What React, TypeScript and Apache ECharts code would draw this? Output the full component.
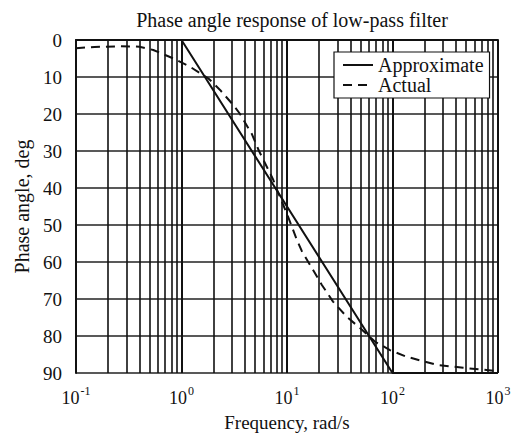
import React, { useEffect, useRef } from "react";
import * as echarts from "echarts";

const titleText = "Phase angle response of low-pass filter";
const xAxisName = "Frequency, rad/s";
const yAxisName = "Phase angle, deg";

const approxFreq = [0.1, 1, 100, 1000];
const approxPhase = [0, 0, 90, 90];

const actualFreq = [0.1, 0.15, 0.25, 0.4, 0.54, 0.84, 1.2, 1.8, 2.32, 3.1, 3.59, 4.66, 5.43, 7.36, 8.04, 10, 12.4, 13.8, 21.4, 27.3, 36.8, 49, 68, 94.6, 136, 263, 468, 1000];
const actualPhase = [2.2, 1.9, 1.7, 1.8, 2.7, 5, 7.2, 10.4, 13.5, 17.6, 20, 25.5, 30, 37.6, 40.5, 47, 54, 57, 66.2, 70.7, 74.8, 77.8, 81.5, 83.8, 85.6, 87.8, 88.6, 89.5];

const decades = [0.1, 1, 10, 100];
const minorMultipliers = [2, 3, 4, 5, 6, 7, 8, 9];
const yTicks = [0, 10, 20, 30, 40, 50, 60, 70, 80, 90];

const FONT = "Liberation Serif";

export default function App() {
  const ref = useRef<HTMLDivElement>(null);
  useEffect(() => {
    document.body.style.margin = "0";
    if (!ref.current) return;
    const chart = echarts.init(ref.current, null, { renderer: "svg" });
    const minorLines: number[] = [];
    decades.forEach((d) => minorMultipliers.forEach((m) => minorLines.push(+(d * m).toPrecision(6))));
    const approxData = approxFreq.map((f, i) => [f, approxPhase[i]]);
    const actualData = actualFreq.map((f, i) => [f, actualPhase[i]]);
    chart.setOption({
      animation: false,
      backgroundColor: "#fff",
      textStyle: { fontFamily: FONT, color: "#111" },
      title: {
        text: titleText,
        left: 287,
        textAlign: "center",
        top: 5,
        textStyle: { fontFamily: FONT, fontSize: 20, fontWeight: "normal", color: "#111" },
      },
      legend: {
        orient: "vertical",
        left: 334,
        top: 52,
        padding: [3, 6, 3, 8],
        itemGap: 0,
        itemWidth: 30,
        itemHeight: 14,
        backgroundColor: "#fff",
        borderColor: "#111",
        borderWidth: 1.2,
        borderRadius: 0,
        itemStyle: { color: "transparent", borderWidth: 0, opacity: 0 },
        textStyle: { fontFamily: FONT, fontSize: 20, color: "#111", lineHeight: 20 },
        data: ["Approximate", "Actual"],
        z: 10,
      },
      grid: { left: 76, right: 18, top: 40, bottom: 60, outerBoundsMode: "none", containLabel: false },
      xAxis: {
        type: "log",
        logBase: 10,
        min: 0.1,
        max: 1000,
        name: xAxisName,
        nameLocation: "middle",
        nameGap: 40,
        nameTextStyle: { fontFamily: FONT, fontSize: 19, color: "#111" },
        axisLine: { show: true, lineStyle: { color: "#111", width: 2 } },
        axisTick: { show: false },
        axisLabel: {
          margin: 12,
          formatter: (v: number) => `{b|10}{s|${Math.round(Math.log10(v))}}`,
          rich: {
            b: { fontFamily: FONT, fontSize: 18, color: "#111", lineHeight: 22, verticalAlign: "bottom" },
            s: { fontFamily: FONT, fontSize: 12, color: "#111", verticalAlign: "top", padding: [0, 0, 0, 1] },
          },
        },
        splitLine: { show: true, lineStyle: { color: "#111", width: 2 } },
      },
      yAxis: {
        type: "value",
        inverse: true,
        min: 0,
        max: 90,
        interval: 10,
        name: yAxisName,
        nameLocation: "middle",
        nameRotate: 90,
        nameGap: 37,
        nameTextStyle: { fontFamily: FONT, fontSize: 20, color: "#111" },
        axisLine: { show: true, lineStyle: { color: "#111", width: 2 } },
        axisTick: { show: false },
        axisLabel: {
          margin: 14,
          fontFamily: FONT,
          fontSize: 19,
          color: "#111",
          formatter: (v: number) => (yTicks.includes(v) ? String(v) : ""),
        },
        splitLine: { show: true, lineStyle: { color: "#222", width: 1.5 } },
      },
      series: [
        {
          name: "Approximate",
          type: "line",
          data: approxData,
          symbol: "none",
          showSymbol: false,
          lineStyle: { color: "#111", width: 2, type: "solid" },
          itemStyle: { color: "#111" },
          z: 5,
          markLine: {
            silent: true,
            symbol: ["none", "none"],
            label: { show: false },
            lineStyle: { color: "#111", width: 1.6, type: "solid" },
            data: minorLines.map((x) => ({ xAxis: x })),
            z: 1,
          },
        },
        {
          name: "Actual",
          type: "line",
          data: actualData,
          symbol: "none",
          showSymbol: false,
          lineStyle: { color: "#111", width: 2, type: [9, 6] },
          itemStyle: { color: "#111" },
          z: 5,
        },
      ],
    });
    return () => chart.dispose();
  }, []);
  return <div ref={ref} style={{ width: 516, height: 433 }} />;
}
